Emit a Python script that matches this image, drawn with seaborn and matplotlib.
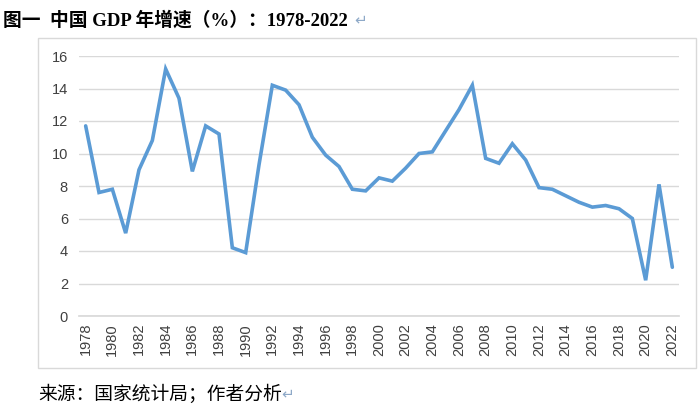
import matplotlib
matplotlib.use("Agg")
import matplotlib.pyplot as plt
import seaborn as sns
import pandas as pd
from matplotlib.patches import Rectangle

years = list(range(1978, 2023))
growth = [11.7, 7.6, 7.8, 5.1, 9.0, 10.8, 15.2, 13.4, 8.9, 11.7,
          11.2, 4.2, 3.9, 9.3, 14.2, 13.9, 13.0, 11.0, 9.9, 9.2,
          7.8, 7.7, 8.5, 8.3, 9.1, 10.0, 10.1, 11.4, 12.7, 14.2,
          9.7, 9.4, 10.6, 9.6, 7.9, 7.8, 7.4, 7.0, 6.7, 6.8,
          6.6, 6.0, 2.2, 8.1, 3.0]
yticks = [0, 2, 4, 6, 8, 10, 12, 14, 16]
xticks = list(range(1978, 2023, 2))
title = "图一  中国 GDP 年增速（%）：1978-2022 "
source = "来源：国家统计局；作者分析"

sns.set_theme(style="white")
plt.rcParams['font.family'] = ['Liberation Sans', 'Noto Sans CJK SC', 'DejaVu Sans']

df = pd.DataFrame({"year": years, "growth": growth})

fig = plt.figure(figsize=(7.0, 4.08), dpi=100)
fig.patches.append(Rectangle((38/700, 1-368/408), (696-38)/700, (368-38)/408,
                             transform=fig.transFigure, fill=False,
                             edgecolor="#D9D9D9", linewidth=1.0))
ax = fig.add_axes([79/700, (408-316)/408, (679-79)/700, (316-56)/408])
sns.lineplot(data=df, x="year", y="growth", ax=ax, color="#5B9BD5",
             linewidth=2.6, solid_joinstyle="miter")
ax.set_xlim(1977.5, 2022.5)
ax.set_ylim(0, 16)
ax.set_yticks(yticks)
ax.set_yticklabels([str(v) for v in yticks], fontsize=10.5, color="#404040")
ax.set_xticks(xticks)
ax.set_xticklabels([str(v) for v in xticks], rotation=90, fontsize=10.5, color="#404040")
ax.yaxis.grid(True, color="#D9D9D9", linewidth=1.0)
ax.set_axisbelow(True)
for s in ["top", "right", "left"]:
    ax.spines[s].set_visible(False)
ax.spines["bottom"].set_color("#D9D9D9")
ax.tick_params(axis="both", length=0, pad=8)
ax.tick_params(axis="x", pad=5)
ax.set_xlabel("")
ax.set_ylabel("")

tt = fig.text(3/700, 1-20/408, title, fontsize=13.5, fontweight="bold",
              family=['Liberation Serif', 'Noto Sans CJK SC', 'DejaVu Sans'],
              va="center", ha="left", color="black")
t = fig.text(38/700, 1-394/408, source, fontsize=13.5,
             family=['Noto Sans CJK SC', 'DejaVu Sans'],
             va="center", ha="left", color="black")
fig.canvas.draw()
bb = t.get_window_extent()
fig.text(bb.x1/700, 1-394/408, "↵", fontsize=11, color="#8EA9C8",
         family=['DejaVu Sans'], va="center", ha="left")
bt = tt.get_window_extent()
fig.text((bt.x1 + 2)/700, 1-20/408, "↵", fontsize=11, color="#8EA9C8",
         family=['DejaVu Sans'], va="center", ha="left")

fig.savefig("out.png", dpi=100)
